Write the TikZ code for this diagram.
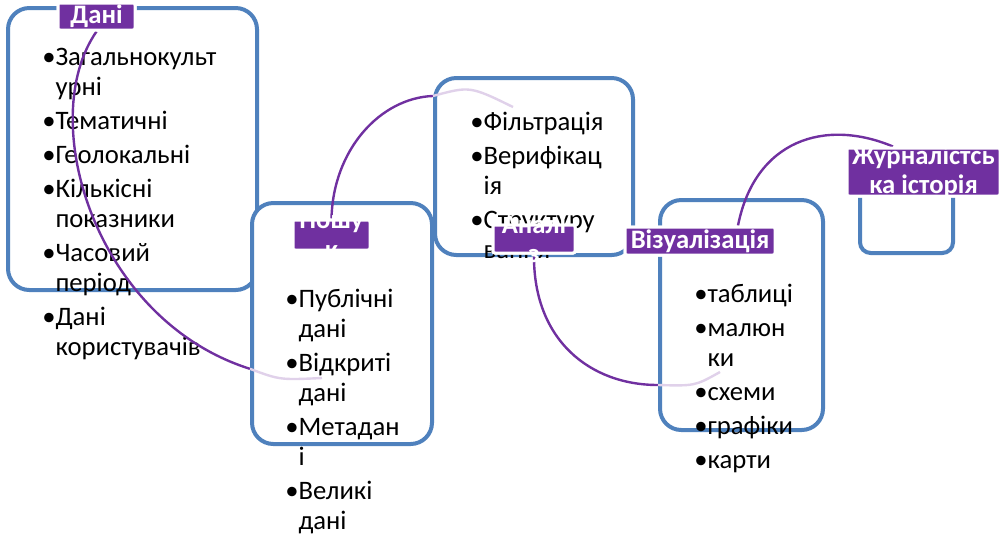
\documentclass[tikz,border=0pt]{standalone}
\usepackage{fontspec}
\setmainfont{Carlito}
\usepackage{tikz}
\definecolor{boxblue}{RGB}{79,129,189}
\definecolor{tagpurple}{RGB}{112,48,160}
\newcommand{\hgap}{\phantom{•}}
\tikzset{
    stagebox/.style={draw=boxblue,line width=3pt,rounded corners=16pt,fill=white,inner sep=0pt},
    stagetag/.style={fill=tagpurple,draw=white,line width=2.25pt,rounded corners=1.5pt,inner sep=0pt},
    tagtext/.style={text=white,font=\bfseries\fontsize{20}{22}\selectfont,align=center,inner sep=0pt},
    itemlist/.style={anchor=base west,align=left,inner sep=0pt,font=\fontsize{20}{22.5}\selectfont},
    flow/.style={draw=tagpurple,line width=1.8pt},
    flowfaint/.style={draw=tagpurple!22,line width=1.8pt}
}

\begin{document}
\begin{tikzpicture}[x=0.75pt,y=-0.75pt]
\useasboundingbox (0,0) rectangle (1003,533);

% stage boxes
\node[stagebox,minimum width=186.75pt,minimum height=211.5pt] (D) at (132.5,149) {};
\node[stagebox,minimum width=135pt,minimum height=180.75pt]   (P) at (342,323.5) {};
\node[stagebox,minimum width=148.5pt,minimum height=132.75pt] (A) at (534,166.5) {};
\node[stagebox,minimum width=122.25pt,minimum height=172.5pt] (V) at (741.5,315) {};
\node[stagebox,rounded corners=8pt,minimum width=69.75pt,minimum height=62.25pt] (Z) at (906.5,211.5) {};

% bullet lists (anchored at the baseline of the last line)
\node[itemlist] (Dlist) at (42,355) {•Загальнокульт\\ \hgap урні\\[3pt] •Тематичні\\[3pt] •Геолокальні\\[3pt]
    •Кількісні\\ \hgap показники\\[3pt] •Часовий\\ \hgap період\\[3pt] •Дані\\ \hgap користувачів};
\node[itemlist] (Plist) at (285,529) {•Публічні\\ \hgap дані\\[3pt] •Відкриті\\ \hgap дані\\[3pt]
    •Метадан\\ \hgap і\\[3pt] •Великі\\ \hgap дані};
\node[itemlist] (Alist) at (470,258) {•Фільтрація\\[3pt] •Верифікац\\ \hgap ія\\[3pt] •Структуру\\ \hgap вання};
\node[itemlist] (Vlist) at (694,468) {•таблиці\\[3pt] •малюн\\ \hgap ки\\[3pt] •схеми\\[3pt] •графіки\\[3pt] •карти};

% labels (rectangles first, text on top)
\node[stagetag,minimum width=57.75pt,minimum height=20.25pt] (Dl) at (96.5,16.5) {};
\node[stagetag,minimum width=57.75pt,minimum height=22.5pt]  (Pl) at (331.5,235) {};
\node[stagetag,minimum width=61.5pt,minimum height=21pt]     (Al) at (534,239) {};
\node[stagetag,minimum width=112.5pt,minimum height=21pt]    (Vl) at (700,241) {};
\node[stagetag,minimum width=114.75pt,minimum height=36pt]   (Zl) at (923.5,172) {};

% connecting arcs
\draw[flow] (Dl.south) .. controls (35,120) and (95,320) .. ([yshift=-34pt]P.west) coordinate (e1);
\draw[flowfaint] (e1) .. controls (280,380) .. (322,378);
\draw[flow] (Pl.north) .. controls (333,150) and (380,98) .. ([yshift=52.9pt]A.west) coordinate (e2);
\draw[flowfaint] (e2) .. controls (470,86) .. (513,107);
\draw[flow] (Al.south) .. controls (533,340) and (590,385) .. ([yshift=-52.5pt]V.west) coordinate (e3);
\draw[flowfaint] (e3) .. controls (695,386) .. (720,372);
\draw[flow] ([xshift=28.5pt]Vl.north) .. controls (755,140) and (825,118) .. ([xshift=-22.9pt]Zl.north);

% labels redrawn over the arcs
\node[stagetag,minimum width=57.75pt,minimum height=20.25pt] (Dl2) at (Dl) {};
\node[stagetag,minimum width=57.75pt,minimum height=22.5pt]  (Pl2) at (Pl) {};
\node[stagetag,minimum width=61.5pt,minimum height=21pt]     (Al2) at (Al) {};
\node[stagetag,minimum width=112.5pt,minimum height=21pt]    (Vl2) at (Vl) {};
\node[stagetag,minimum width=114.75pt,minimum height=36pt]   (Zl2) at (Zl) {};
\node[tagtext] (Dt) at (Dl) {Дані};
\node[tagtext] (Pt) at (Pl) {Пошу\\к};
\node[tagtext] (At) at (Al) {Аналі\\з};
\node[tagtext] (Vt) at (Vl) {Візуалізація};
\node[tagtext] (Zt) at (Zl) {Журналістсь\\ка історія};
\end{tikzpicture}
\end{document}
